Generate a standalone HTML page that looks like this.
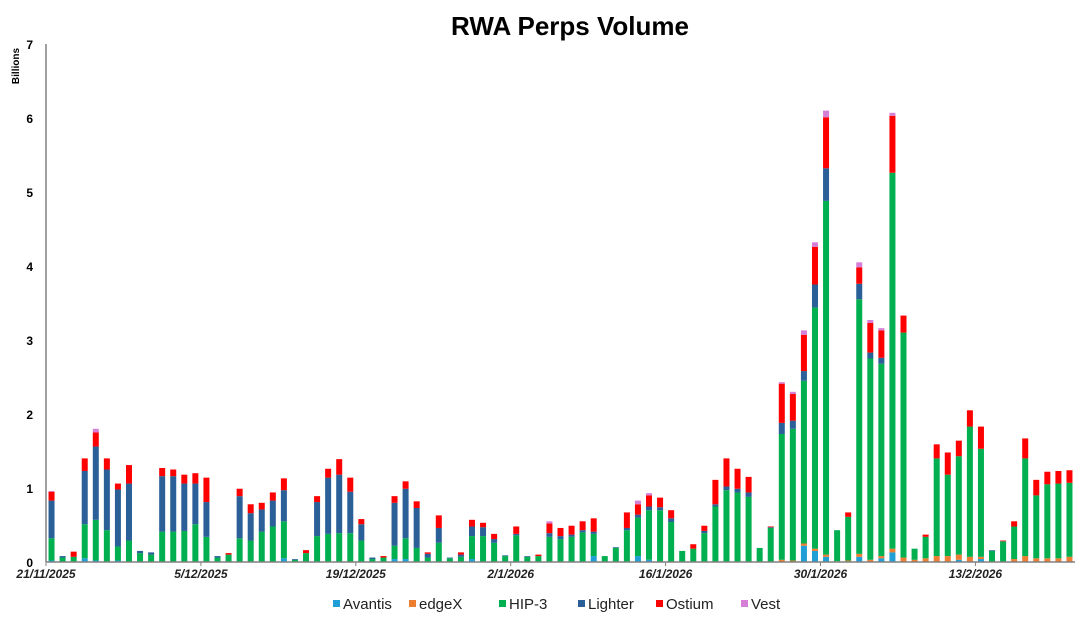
<!DOCTYPE html>
<html><head><meta charset="utf-8"><style>
body{margin:0;background:#fff;width:1088px;height:618px;overflow:hidden;font-family:"Liberation Sans",Arial,sans-serif}
svg text{font-family:"Liberation Sans",Arial,sans-serif}
</style></head><body>
<svg id="chart" width="1088" height="618" viewBox="0 0 1088 618" xmlns="http://www.w3.org/2000/svg">
<text x="570" y="35" text-anchor="middle" font-size="26" font-weight="bold" fill="#000">RWA Perps Volume</text>
<text transform="translate(19,66) rotate(-90)" text-anchor="middle" font-size="10" font-weight="bold" fill="#000">Billions</text>
<g id="bars"></g>
<g id="axes"></g>
<g id="legend"></g>
</svg>
<script>
const avantis=[.02,0,0,.05,.02,0,.02,0,0,0,0,0,0,0,0,0,0,0,0,0,0,.05,0,0,0,0,0,0,0,0,0,.04,.04,0,0,0,0,0,.04,0,0,0,0,0,0,0,0,0,0,.08,0,0,0,.08,.03,0,0,0,0,0,0,0,0,0,0,0,0,0,.22,.15,.07,0,0,.07,0,.05,.13,0,0,0,0,0,.03,0,.04,0,0,0,0,0,0,0,0];
const edgex=[0,0,0,0,0,0,0,0,0,0,0,0,0,0,0,0,0,0,0,0,0,0,0,0,0,0,0,0,0,0,0,0,0,0,0,0,0,0,0,0,0,0,0,0,0,0,0,0,0,0,0,0,0,0,0,0,0,0,0,0,0,0,0,0,0,0,.03,.02,.03,.03,.03,.01,.02,.04,.03,.03,.05,.06,.03,.05,.08,.08,.07,.07,.03,0,0,.04,.08,.05,.05,.05,.07];
const hip3=[.30,.06,.07,.46,.55,.43,.19,.29,.12,.10,.41,.41,.42,.51,.34,.06,.10,.32,.29,.41,.48,.50,.03,.12,.35,.38,.39,.39,.29,.04,.06,.18,.28,.19,.06,.26,.05,.07,.31,.35,.26,.08,.36,.07,.08,.34,.31,.34,.40,.30,.08,.19,.43,.52,.67,.70,.54,.15,.18,.39,.75,.97,.94,.88,.19,.46,1.70,1.78,2.20,3.26,4.78,.42,.59,3.44,2.72,2.60,5.08,3.04,.15,.29,1.32,1.10,1.33,1.76,1.46,.15,.28,.44,1.32,.85,1.00,1.01,1.00];
const lighter=[.51,.02,0,.72,.99,.82,.77,.77,.03,.03,.75,.75,.64,.55,.47,.02,0,.57,.37,.30,.35,.42,.01,0,.46,.76,.79,.56,.22,.02,0,.58,.67,.54,.05,.20,.01,.03,.13,.12,.05,.01,.02,.01,0,.05,.04,.03,.03,.03,0,.01,.03,.04,.05,.04,.05,0,0,.03,.03,.05,.05,.06,0,.01,.15,.11,.13,.31,.44,0,0,.21,.08,.08,0,0,0,0,0,0,0,0,0,.01,0,0,0,0,0,0,0];
const ostium=[.12,0,.07,.17,.19,.15,.08,.25,0,0,.11,.09,.12,.14,.33,0,.02,.10,.12,.09,.11,.16,0,.04,.08,.12,.21,.19,.07,0,.02,.09,.10,.09,.02,.17,0,.03,.09,.06,.07,0,.10,0,.02,.13,.11,.12,.12,.18,0,0,.21,.14,.15,.13,.11,0,.06,.07,.33,.38,.27,.21,0,.01,.53,.36,.49,.51,.69,0,.06,.22,.40,.37,.77,.23,0,.03,.19,.30,.21,.22,.30,0,.01,.07,.27,.21,.17,.17,.17];
const vest=[.01,0,0,0,.05,0,0,0,0,0,0,0,0,0,0,0,0,0,0,0,0,0,0,0,0,0,0,0,0,0,0,0,0,0,0,0,0,0,0,0,0,0,0,0,0,.03,0,0,0,0,0,0,0,.05,.03,0,0,0,0,0,0,0,0,0,0,0,.02,.03,.06,.06,.09,0,0,.07,.04,.03,.04,0,0,0,0,0,0,0,0,0,0,0,0,0,0,0,0];
const seriesNames=["Avantis","edgeX","HIP-3","Lighter","Ostium","Vest"];
const seriesColors=["#1f9fd6","#ed7d31","#00b050","#2a5f98","#ff0000","#d67fd6"];
const yTicks=[0,1,2,3,4,5,6,7];
const xTickLabels=["21/11/2025","5/12/2025","19/12/2025","2/1/2026","16/1/2026","30/1/2026","13/2/2026"];
const xTickIndex=[0,14,28,42,56,70,84];

const NS="http://www.w3.org/2000/svg";
const X0=46,X1=1075,Y0=562,YT=44,N=hip3.length;
const step=(X1-X0)/N;
const xPos=i=>X0+step*(i+0.5);
const yPos=v=>Y0-(v/7)*(Y0-YT);
function mk(tag,attrs,parent){const e=document.createElementNS(NS,tag);for(const k in attrs)e.setAttribute(k,attrs[k]);parent.appendChild(e);return e;}
const series=[avantis,edgex,hip3,lighter,ostium,vest];
const gb=document.getElementById('bars');
for(let i=0;i<N;i++){
  let cum=0;
  for(let s=0;s<series.length;s++){
    const v=series[s][i];if(!v)continue;
    const r=mk('rect',{x:xPos(i)-3,y:yPos(cum+v),width:6,height:yPos(cum)-yPos(cum+v),fill:seriesColors[s]},gb);
    
    
    cum+=v;
  }
}
const ga=document.getElementById('axes');
const yl=mk('line',{x1:X0,y1:YT,x2:X0,y2:Y0,stroke:'#808080','stroke-width':1.5},ga);


const xl=mk('line',{x1:X0,y1:Y0,x2:X1,y2:Y0,stroke:'#808080','stroke-width':1.5},ga);


yTicks.forEach(t=>{
  const tx=mk('text',{x:33,y:yPos(t)+5,'text-anchor':'end','font-size':12,'font-weight':'bold',fill:'#000'},ga);
  tx.textContent=t;
  
  
});
xTickIndex.forEach((d,k)=>{
  const x=X0+step*d;
  const tk=mk('line',{x1:x,y1:Y0,x2:x,y2:Y0+4,stroke:'#808080'},ga);
  
  
  const tx=mk('text',{x:x,y:Y0+16,'text-anchor':'middle','font-size':12,'font-weight':'bold','font-style':'italic',fill:'#222'},ga);
  tx.textContent=xTickLabels[k];
  
  
});
const gl=document.getElementById('legend');
const legX=[333,409,499,578,656,741];
seriesNames.forEach((n,k)=>{
  const g=mk('g',{},gl);
  
  
  mk('rect',{x:legX[k],y:600,width:7,height:7,fill:seriesColors[k]},g);
  const t=mk('text',{x:legX[k]+10,y:609,'font-size':15,fill:'#222'},g);
  t.textContent=n;
});
</script>
</body></html>
